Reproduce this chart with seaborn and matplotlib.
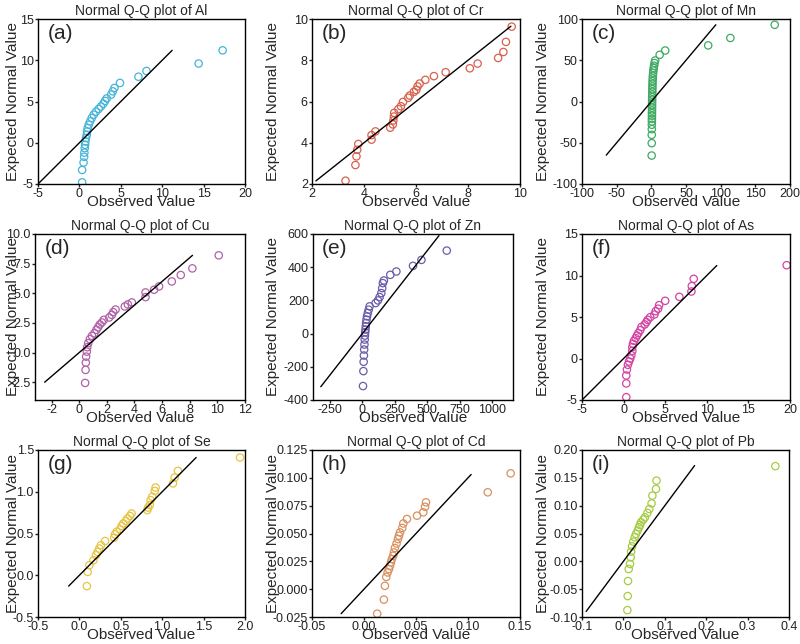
# Normal Q-Q plots of nine elements (3x3 panel figure)

import numpy as np
import matplotlib.pyplot as plt
import seaborn as sns
from matplotlib.ticker import FormatStrFormatter, MultipleLocator

sns.set_style('ticks')
plt.rcParams['font.family'] = ['Liberation Sans', 'DejaVu Sans']

# Panel names and colours
elements = ['Al', 'Cr', 'Mn', 'Cu', 'Zn', 'As', 'Se', 'Cd', 'Pb']
letters = ['(a)', '(b)', '(c)', '(d)', '(e)', '(f)', '(g)', '(h)', '(i)']
colors = ['#45b4d8', '#d8604c', '#3eaa62', '#b062a6', '#6c5ca8',
          '#d444a4', '#e6c444', '#d8905e', '#a6cc44']

al_obs = [0.33, 0.33, 0.5, 0.57, 0.6, 0.64, 0.69, 0.73, 0.8, 0.89, 0.93, 1.0, 1.13,
          1.29, 1.49, 1.73, 2.0, 2.33, 2.6, 2.9, 3.1, 3.3, 3.83, 4.03, 4.23, 4.9,
          7.13, 8.1, 14.4, 17.3]
al_exp = [-4.8, -3.3, -2.4, -1.7, -1.2, -0.65, -0.24, 0.16, 0.57, 0.97, 1.37, 1.78,
          2.19, 2.59, 3.0, 3.4, 3.77, 4.1, 4.4, 4.74, 5.07, 5.38, 5.83, 6.23, 6.64,
          7.25, 8.0, 8.7, 9.6, 11.2]

cr_obs = [3.29, 3.67, 3.71, 3.74, 3.78, 4.29, 4.29, 4.44, 5.01, 5.11, 5.13, 5.15,
          5.16, 5.32, 5.42, 5.5, 5.7, 5.76, 5.92, 6.01, 6.06, 6.14, 6.36, 6.69, 7.14,
          8.07, 8.37, 9.16, 9.36, 9.46, 9.68]
cr_exp = [2.16, 2.92, 3.34, 3.66, 3.94, 4.15, 4.37, 4.55, 4.73, 4.89, 5.08, 5.27,
          5.45, 5.63, 5.77, 5.98, 6.18, 6.29, 6.47, 6.56, 6.73, 6.87, 7.05, 7.23, 7.42,
          7.61, 7.84, 8.11, 8.4, 8.89, 9.63]

mn_obs = [0.5, 0.6, 0.6, 0.7, 0.7, 0.8, 0.8, 0.9, 0.9, 1.0, 1.0, 1.1, 1.1, 1.2, 1.2,
          1.3, 1.4, 1.5, 1.6, 1.7, 1.8, 2.0, 2.2, 2.6, 3.0, 3.4, 4.0, 4.6, 5.5, 12,
          20, 82, 114, 178]
mn_exp = [-65.5, -50.5, -40.4, -33.5, -28.2, -24.2, -21, -17.3, -14.1, -10.9, -7.6,
          -4.4, -1.2, 2.1, 5.3, 8.5, 11.8, 15, 18.2, 21.5, 24.7, 27.9, 31.2, 34.4,
          37.6, 40.5, 43.3, 46.6, 49.7, 56.6, 61.8, 68, 77, 93]

cu_obs = [0.43, 0.46, 0.48, 0.5, 0.55, 0.58, 0.65, 0.77, 0.92, 1.1, 1.25, 1.37, 1.49,
          1.64, 1.78, 2.17, 2.36, 2.46, 2.63, 3.3, 3.52, 3.81, 4.8, 4.8, 5.42, 5.78,
          6.7, 7.35, 8.19, 10.1]
cu_exp = [-2.56, -1.46, -0.85, -0.34, 0.08, 0.45, 0.79, 1.13, 1.41, 1.63, 1.92, 2.14,
          2.37, 2.54, 2.76, 2.96, 3.18, 3.41, 3.63, 3.89, 4.06, 4.23, 4.68, 5.07, 5.3,
          5.58, 6.0, 6.54, 7.1, 8.2]

zn_obs = [5, 8, 10, 12, 14, 16, 18, 20, 22, 24, 26, 29, 32, 36, 42, 49, 56, 102, 120,
          133, 146, 153, 158, 166, 215, 262, 390, 455, 650]
zn_exp = [-316, -226, -170, -132, -96, -66, -36, -12, 8, 24, 44, 64, 84, 104, 124,
          144, 164, 184, 200, 220, 244, 274, 304, 320, 354, 374, 408, 444, 500]

as_obs = [0.32, 0.32, 0.32, 0.4, 0.52, 0.65, 0.8, 0.93, 1.05, 1.05, 1.13, 1.25, 1.45,
          1.61, 1.77, 2.0, 2.14, 2.54, 2.74, 2.9, 3.2, 3.7, 3.86, 4.15, 4.27, 5.0, 6.7,
          8.15, 8.2, 8.43, 19.6]
as_exp = [-4.66, -3.0, -2.05, -1.33, -0.76, -0.36, 0.0, 0.4, 0.92, 1.37, 1.77, 2.13,
          2.45, 2.77, 3.05, 3.41, 3.8, 4.1, 4.38, 4.66, 4.98, 5.3, 5.7, 6.0, 6.43, 6.95,
          7.43, 8.07, 8.72, 9.6, 11.24]

se_obs = [0.09, 0.1, 0.12, 0.17, 0.2, 0.22, 0.24, 0.26, 0.31, 0.42, 0.43, 0.45, 0.49,
          0.51, 0.53, 0.56, 0.58, 0.61, 0.63, 0.82, 0.83, 0.85, 0.86, 0.88, 0.91, 0.92,
          1.13, 1.15, 1.19, 1.94]
se_exp = [-0.13, 0.04, 0.12, 0.18, 0.24, 0.28, 0.32, 0.36, 0.41, 0.45, 0.49, 0.52,
          0.55, 0.59, 0.62, 0.65, 0.68, 0.71, 0.74, 0.78, 0.81, 0.84, 0.9, 0.94, 1.01,
          1.05, 1.1, 1.17, 1.25, 1.41]

cd_obs = [0.0127, 0.0191, 0.0201, 0.0214, 0.0227, 0.024, 0.025, 0.0259, 0.0268, 0.0281,
          0.0288, 0.0297, 0.0313, 0.0326, 0.0336, 0.0346, 0.0368, 0.0378, 0.0413, 0.051,
          0.057, 0.0587, 0.0596, 0.119, 0.141]
cd_exp = [-0.022, -0.0094, 0.003, 0.011, 0.015, 0.018, 0.021, 0.024, 0.027, 0.030,
          0.033, 0.037, 0.041, 0.045, 0.048, 0.051, 0.055, 0.059, 0.063, 0.066, 0.069,
          0.074, 0.078, 0.087, 0.104]

pb_obs = [0.0096, 0.0104, 0.0112, 0.0128, 0.016, 0.0177, 0.0185, 0.0209, 0.024, 0.0273,
          0.0305, 0.0345, 0.0377, 0.0401, 0.0425, 0.048, 0.052, 0.058, 0.0626, 0.068,
          0.070, 0.0787, 0.080, 0.367]
pb_exp = [-0.0876, -0.0624, -0.0354, -0.0138, -0.0048, 0.0072, 0.0174, 0.027, 0.0354,
          0.0432, 0.0492, 0.0552, 0.0612, 0.0654, 0.0702, 0.075, 0.079, 0.087, 0.094,
          0.104, 0.118, 0.130, 0.145, 0.171]

# Ends of the y = x reference line in each panel
line_lo = [-5, 2.15, -65, -2.5, -320, -5, -0.13, -0.022, -0.09]
line_hi = [11.2, 9.65, 93, 8.2, 590, 11.2, 1.41, 0.103, 0.172]

observed = [al_obs, cr_obs, mn_obs, cu_obs, zn_obs, as_obs, se_obs, cd_obs, pb_obs]
expected = [al_exp, cr_exp, mn_exp, cu_exp, zn_exp, as_exp, se_exp, cd_exp, pb_exp]

# Axis set-up per panel: xlim, xstep, xfmt, ylim, ystep, yfmt
axis_cfg = [
    ((-5, 20), 5, '%g', (-5, 15), 5, '%g'),
    ((2, 10), 2, '%g', (2, 10), 2, '%g'),
    ((-100, 200), 50, '%g', (-100, 100), 50, '%g'),
    ((-3.2, 12), 2, '%g', (-4, 10), 2.5, '%.1f'),
    ((-380, 1160), 250, '%g', (-400, 600), 200, '%g'),
    ((-5, 20), 5, '%g', (-5, 15), 5, '%g'),
    ((-0.5, 2.0), 0.5, '%.1f', (-0.5, 1.5), 0.5, '%.1f'),
    ((-0.05, 0.15), 0.05, '%.2f', (-0.025, 0.125), 0.025, '%.3f'),
    ((-0.1, 0.4), 0.1, '%.1f', (-0.1, 0.2), 0.05, '%.2f'),
]

# Axes boxes in pixels (left, right, top, bottom)
boxes = [
    (38, 245, 19, 184), (312, 520, 19, 184), (582, 790, 19, 184),
    (35, 245, 234, 400), (313, 513, 234, 400), (582, 790, 234, 400),
    (38, 245, 450, 617), (312, 520, 450, 617), (582, 789, 450, 617),
]
# right edge (pixels) of the rotated y label in each column
ylabel_edge = [20, 280, 550]

W, H = 800, 644
fig = plt.figure(figsize=(W / 100, H / 100), dpi=100)

for i in range(9):
    l, r, t, b = boxes[i]
    w, h = r - l, b - t
    ax = fig.add_axes([l / W, 1 - b / H, w / W, h / H])

    # reference line and points
    sns.lineplot(x=[line_lo[i], line_hi[i]], y=[line_lo[i], line_hi[i]],
                 color='black', linewidth=1.0, ax=ax)
    sns.scatterplot(x=observed[i], y=expected[i], marker='o', s=28,
                    facecolors='none', edgecolor=colors[i], linewidth=0.9, ax=ax)

    xlim, xstep, xfmt, ylim, ystep, yfmt = axis_cfg[i]
    ax.set_xlim(*xlim)
    ax.set_ylim(*ylim)
    ax.xaxis.set_major_locator(MultipleLocator(xstep))
    ax.yaxis.set_major_locator(MultipleLocator(ystep))
    ax.xaxis.set_major_formatter(FormatStrFormatter(xfmt))
    ax.yaxis.set_major_formatter(FormatStrFormatter(yfmt))

    for side in ['top', 'right', 'bottom', 'left']:
        ax.spines[side].set_visible(True)
        ax.spines[side].set_color('black')
        ax.spines[side].set_linewidth(1.0)
    ax.tick_params(direction='out', length=2.5, width=1, labelsize=9, pad=0.5,
                   colors='#222222')

    ax.set_title('Normal Q-Q plot of ' + elements[i], fontsize=10, pad=3)
    ax.set_xlabel('Observed Value', fontsize=11)
    ax.set_ylabel('Expected Normal Value', fontsize=11)
    ax.xaxis.set_label_coords(0.5, -11 / h)
    ax.yaxis.set_label_coords((ylabel_edge[i % 3] - l) / w, 0.5)
    ax.text(0.045, 0.97, letters[i], transform=ax.transAxes, fontsize=15,
            va='top', ha='left')

plt.savefig('out.png', dpi=100)
